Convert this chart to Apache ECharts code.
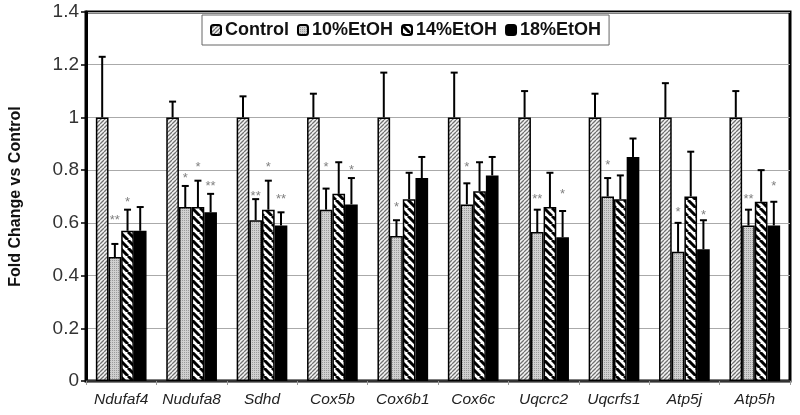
<!DOCTYPE html>
<html>
<head>
<meta charset="utf-8">
<script src="https://cdn.jsdelivr.net/npm/echarts@6/dist/echarts.min.js"></script>
<style>
  html, body { margin: 0; padding: 0; background: #fff; }
  #chart { width: 800px; height: 415px; }
</style>
</head>
<body>
<div id="chart"></div>
<script>
// data
var genes = ['Ndufaf4', 'Nudufa8', 'Sdhd', 'Cox5b', 'Cox6b1', 'Cox6c', 'Uqcrc2', 'Uqcrfs1', 'Atp5j', 'Atp5h'];
var groups = ['Control', '10%EtOH', '14%EtOH', '18%EtOH'];

var control = [1, 1, 1, 1, 1, 1, 1, 1, 1, 1];
var etoh10 = [0.47, 0.66, 0.61, 0.65, 0.55, 0.67, 0.565, 0.70, 0.49, 0.59];
var etoh14 = [0.57, 0.66, 0.65, 0.71, 0.69, 0.72, 0.66, 0.69, 0.70, 0.68];
var etoh18 = [0.57, 0.64, 0.59, 0.67, 0.77, 0.78, 0.545, 0.85, 0.50, 0.59];

var sdControl = [0.23, 0.06, 0.08, 0.09, 0.17, 0.17, 0.10, 0.09, 0.13, 0.10];
var sd10 = [0.05, 0.08, 0.08, 0.08, 0.06, 0.08, 0.085, 0.07, 0.11, 0.06];
var sd14 = [0.08, 0.10, 0.11, 0.12, 0.10, 0.11, 0.13, 0.09, 0.17, 0.12];
var sd18 = [0.09, 0.07, 0.05, 0.10, 0.08, 0.07, 0.10, 0.07, 0.11, 0.09];

// significance marks and the height they sit at
var star10 = ['**', '*', '**', '*', '*', '*', '**', '*', '*', '**'];
var star10At = [0.62, 0.78, 0.71, 0.82, 0.67, 0.82, 0.70, 0.83, 0.65, 0.70];
var star14 = ['*', '*', '*', '', '', '', '', '', '', ''];
var star14At = [0.69, 0.82, 0.82, 0, 0, 0, 0, 0, 0, 0];
var star18 = ['', '**', '**', '*', '', '', '*', '', '*', '*'];
var star18At = [0, 0.75, 0.70, 0.81, 0, 0, 0.72, 0, 0.64, 0.75];

var yTicks = [0, 0.2, 0.4, 0.6, 0.8, 1, 1.2, 1.4];

function hatch(size, bg, fg, lw, dir) {
  var c = document.createElement('canvas');
  c.width = c.height = size;
  var ctx = c.getContext('2d');
  ctx.fillStyle = bg;
  ctx.fillRect(0, 0, size, size);
  ctx.strokeStyle = fg;
  ctx.lineWidth = lw;
  ctx.beginPath();
  for (var k = -size; k <= size; k += size) {
    if (dir == '/') { ctx.moveTo(k, size); ctx.lineTo(k + size, 0); }
    else { ctx.moveTo(k, 0); ctx.lineTo(k + size, size); }
  }
  ctx.stroke();
  return { image: c, repeat: 'repeat' };
}
function dots() {
  var c = document.createElement('canvas');
  c.width = c.height = 2;
  var ctx = c.getContext('2d');
  ctx.fillStyle = '#d0d0d0';
  ctx.fillRect(0, 0, 2, 2);
  ctx.fillStyle = '#9a9a9a';
  ctx.fillRect(0, 0, 1, 1);
  return { image: c, repeat: 'repeat' };
}

var fills = [hatch(4, '#f4f4f4', '#707070', 1.3, '/'), dots(), hatch(8, '#fff', '#000', 3, '\\'), '#000'];
var values = [control, etoh10, etoh14, etoh18];
var sds = [sdControl, sd10, sd14, sd18];
var stars = [[], star10, star14, star18];
var starsAt = [[], star10At, star14At, star18At];

function offset(si, w) { return w * (-0.36 + 0.18 * (si + 0.5)); }

function errItem(si) {
  return function (params, api) {
    var top = api.coord([api.value(0), api.value(1)]);
    var base = api.coord([api.value(0), api.value(2)]);
    var w = api.size([1, 0])[0];
    var cx = top[0] + offset(si, w);
    return {
      type: 'group',
      children: [
        { type: 'line', shape: { x1: cx, y1: base[1], x2: cx, y2: top[1] }, style: { stroke: '#000', lineWidth: 2 } },
        { type: 'line', shape: { x1: cx - 3.5, y1: top[1], x2: cx + 3.5, y2: top[1] }, style: { stroke: '#000', lineWidth: 2 } }
      ]
    };
  };
}
function starItem(si) {
  return function (params, api) {
    var txt = stars[si][params.dataIndex];
    if (!txt) return null;
    var p = api.coord([api.value(0), api.value(1)]);
    var w = api.size([1, 0])[0];
    return {
      type: 'text',
      x: p[0] + offset(si, w), y: p[1] + 3,
      style: { text: txt, fill: '#808080', font: '13px "Liberation Sans", Arial', align: 'center', verticalAlign: 'middle' }
    };
  };
}

var series = [];
groups.forEach(function (g, si) {
  series.push({
    name: g, type: 'bar', data: values[si],
    barGap: '0%', barCategoryGap: '28%',
    itemStyle: { color: fills[si], borderColor: '#000', borderWidth: 1.5 }
  });
});
groups.forEach(function (g, si) {
  series.push({
    type: 'custom', renderItem: errItem(si), z: 5,
    data: values[si].map(function (v, i) { return [i, v + sds[si][i], v]; })
  });
  if (si > 0) {
    series.push({
      type: 'custom', renderItem: starItem(si), z: 6,
      data: starsAt[si].map(function (y, i) { return [i, y]; })
    });
  }
});

var chart = echarts.init(document.getElementById('chart'));
chart.setOption({
  animation: false,
  textStyle: { fontFamily: '"Liberation Sans", Arial, sans-serif' },
  grid: { left: 83, right: 10, top: 12, bottom: 34, show: true, borderColor: '#000', borderWidth: 3 },
  legend: {
    data: groups, left: 202, top: 15,
    itemWidth: 10, itemHeight: 10, itemGap: 8,
    padding: [6, 8], borderColor: '#666', borderWidth: 1,
    textStyle: { fontSize: 18, fontWeight: 'bold', color: '#111', padding: [0, 0, 0, -1] }
  },
  xAxis: {
    type: 'category', data: genes,
    axisLine: { lineStyle: { color: '#333', width: 2 } },
    axisTick: { show: true, length: 4, lineStyle: { color: '#999' } },
    axisLabel: { interval: 0, fontSize: 15.5, fontStyle: 'italic', color: '#222', margin: 11 }
  },
  yAxis: {
    type: 'value', min: 0, max: 1.4, interval: 0.2,
    name: 'Fold Change vs Control', nameLocation: 'middle', nameGap: 62,
    nameTextStyle: { fontSize: 16, fontWeight: 'bold', color: '#111' },
    axisLine: { show: true, lineStyle: { color: '#000', width: 3 } },
    axisTick: { show: true, length: 5, lineStyle: { color: '#000', width: 1.5 } },
    axisLabel: { fontSize: 19, color: '#333', margin: 7, formatter: function (v) { return String(yTicks[Math.round(v / 0.2)]); } },
    splitLine: { lineStyle: { color: '#aaa', width: 1 } }
  },
  series: series
});
</script>
</body>
</html>
